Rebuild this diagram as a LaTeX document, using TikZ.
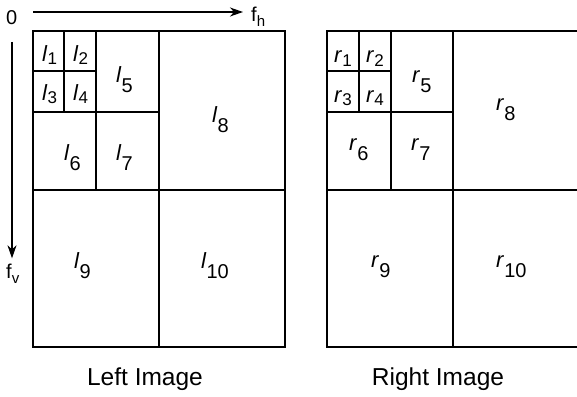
\documentclass[tikz,border=0pt]{standalone}
\usepackage{fontspec}
\setmainfont{Liberation Sans}
\usetikzlibrary{arrows.meta}

\newcommand{\smallband}[2]{\textit{#1}\raisebox{-3pt}{\fontsize{17}{17}\selectfont #2}}
\newcommand{\bigband}[2]{\textit{#1}\raisebox{-10pt}{\fontsize{20}{20}\selectfont #2}}

\tikzset{
	band/.style={anchor=base west, inner sep=0pt, font=\fontsize{22}{22}\selectfont},
	axis/.style={line width=1.2pt, -{Stealth[length=13pt,width=9pt,inset=4pt]}},
	axislabel/.style={anchor=base west, inner sep=0pt, font=\fontsize{20}{20}\selectfont},
	grid/.style={line width=1.6pt},
	frame/.style={line width=2pt},
	caption/.style={anchor=base, inner sep=0pt, font=\fontsize{24.5}{24.5}\selectfont}
}

\begin{document}
\begin{tikzpicture}[x=1pt, y=-1pt]
		\useasboundingbox (0,0) rectangle (577,396);

		% axes
		\node[axislabel] (zero) at (6,25) {0};
		\node[axislabel] (fh) at (251,22) {f\raisebox{-5pt}{\fontsize{15}{15}\selectfont h}};
		\node[axislabel] (fv) at (6,278) {f\raisebox{-5pt}{\fontsize{15}{15}\selectfont v}};
		\coordinate (hstart) at (33,12);
		\coordinate (vstart) at (12,42);
		\draw[axis] (hstart) -- ([xshift=-8pt]fh.west |- hstart);
		\draw[axis] (vstart) -- ([yshift=5pt]vstart |- fv.north);

		% left image
		\draw[frame] (33,31) rectangle (285,347);
		\draw[grid] (159,31) -- (159,347);
		\draw[grid] (33,190) -- (285,190);
		\draw[grid] (96,31) -- (96,190);
		\draw[grid] (33,112) -- (159,112);
		\draw[grid] (64,31) -- (64,112);
		\draw[grid] (33,71) -- (96,71);

		\node[band] (l1) at (42,61) {\smallband{l}{1}};
		\node[band] (l2) at (73,61) {\smallband{l}{2}};
		\node[band] (l3) at (42,100) {\smallband{l}{3}};
		\node[band] (l4) at (73,100) {\smallband{l}{4}};
		\node[band] (l5) at (116,82) {\bigband{l}{5}};
		\node[band] (l6) at (64,160) {\bigband{l}{6}};
		\node[band] (l7) at (116,160) {\bigband{l}{7}};
		\node[band] (l8) at (212,122) {\bigband{l}{8}};
		\node[band] (l9) at (74,268) {\bigband{l}{9}};
		\node[band] (l10) at (201,268) {\bigband{l}{10}};

		% right image
		\draw[frame] (327,31) rectangle (579,347);
		\draw[grid] (453,31) -- (453,347);
		\draw[grid] (327,190) -- (579,190);
		\draw[grid] (391,31) -- (391,190);
		\draw[grid] (327,112) -- (453,112);
		\draw[grid] (359,31) -- (359,112);
		\draw[grid] (327,71) -- (391,71);

		\node[band] (r1) at (334,63) {\smallband{r}{1}};
		\node[band] (r2) at (366,63) {\smallband{r}{2}};
		\node[band] (r3) at (334,102) {\smallband{r}{3}};
		\node[band] (r4) at (366,102) {\smallband{r}{4}};
		\node[band] (r5) at (412,82) {\bigband{r}{5}};
		\node[band] (r6) at (349,150) {\bigband{r}{6}};
		\node[band] (r7) at (411,150) {\bigband{r}{7}};
		\node[band] (r8) at (496,110) {\bigband{r}{8}};
		\node[band] (r9) at (371,267) {\bigband{r}{9}};
		\node[band] (r10) at (496,267) {\bigband{r}{10}};

		\node[caption] (leftcap) at (145,385) {Left Image};
		\node[caption] (rightcap) at (438,385) {Right Image};
	\end{tikzpicture}
\end{document}
